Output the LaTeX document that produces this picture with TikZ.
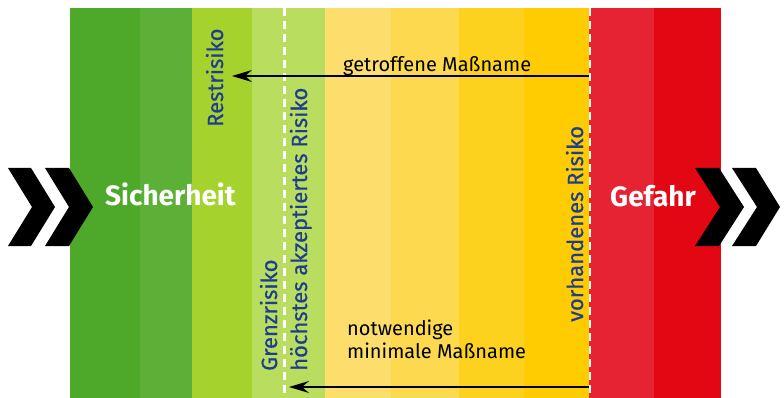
\documentclass[tikz,border=0pt]{standalone}
\usepackage{fontspec}
\setmainfont{Fira Sans}
\newfontfamily\bluefont[FakeBold=0.5]{Fira Sans}
\usetikzlibrary{arrows.meta}
\definecolor{sA}{HTML}{4EA92A}
\definecolor{sB}{HTML}{5CB038}
\definecolor{sC}{HTML}{A6D22D}
\definecolor{sD}{HTML}{B9DD5E}
\definecolor{sE}{HTML}{FDDE6C}
\definecolor{sF}{HTML}{FDD94F}
\definecolor{sG}{HTML}{FDD21F}
\definecolor{sH}{HTML}{FECC00}
\definecolor{sI}{HTML}{E62333}
\definecolor{sJ}{HTML}{E30613}
\definecolor{txtblue}{HTML}{1E3D8F}
\tikzset{
  chev/.style={fill=black},
  bigtxt/.style={text=white,font=\fontsize{28}{30}\selectfont\bfseries,inner sep=0pt,anchor=base west},
  vtxt/.style={text=txtblue,font=\fontsize{22}{24}\selectfont\bluefont,inner sep=0pt,anchor=base west,rotate=90},
  htxt/.style={text=black,font=\fontsize{20}{23}\selectfont,inner sep=0pt,anchor=base west,align=left},
  sep/.style={draw=white,line width=2.5pt,dash pattern=on 8pt off 5pt},
  arr/.style={line width=1.5pt,-{Stealth[length=20pt,width=12pt,inset=7pt]}}
}
\begin{document}
\begin{tikzpicture}[x=1pt,y=-1pt]
\useasboundingbox (0,0) rectangle (784,398);
% stripes
\fill[sA] (70,8) rectangle (141,398);
\fill[sB] (140,8) rectangle (193,398);
\fill[sC] (192,8) rectangle (253,398);
\fill[sD] (252,8) rectangle (326,398);
\fill[sE] (325,8) rectangle (392,398);
\fill[sF] (391,8) rectangle (460,398);
\fill[sG] (459,8) rectangle (525,398);
\fill[sH] (524,8) rectangle (590,398);
\fill[sI] (589,8) rectangle (655,398);
\fill[sJ] (654,8) rectangle (721,398);
% separators
\coordinate (d1t) at (284.5,8);
\coordinate (d1b) at (284.5,398);
\coordinate (d2t) at (590,8);
\coordinate (d2b) at (590,398);
\draw[sep] (d1t) -- (d1b);
\draw[sep,line width=2pt] (d2t) -- (d2b);
% chevrons
\fill[chev] (8,168) -- (31,168) -- (55,207) -- (31,246) -- (8,246) -- (32,207) -- cycle;
\fill[chev] (45,168) -- (69,168) -- (93,207) -- (69,246) -- (45,246) -- (69,207) -- cycle;
\fill[chev] (695,168) -- (719,168) -- (744,207) -- (719,246) -- (695,246) -- (720,207) -- cycle;
\fill[chev] (732,168) -- (756,168) -- (780,207) -- (756,246) -- (732,246) -- (757,207) -- cycle;
% labels
\node[bigtxt] (sich) at (105,206) {Sicherheit};
\node[bigtxt] (gef) at (610,207) {Gefahr};
\node[vtxt] (rest) at (223,127) {Restrisiko};
\node[vtxt] (grenz) at (277,371) {Grenzrisiko};
\node[vtxt] (hoech) at (307,371) {höchstes akzeptiertes Risiko};
\node[vtxt] (vorh) at (583,322) {vorhandenes Risiko};
\node[htxt] (getr) at (343,72) {getroffene Maßname};
\node[htxt] (notw) at (347,358) {notwendige\\minimale Maßname};
% arrows
\coordinate (a1s) at (589,76);
\coordinate (a1e) at (232,76);
\coordinate (a2s) at (589,387);
\coordinate (a2e) at (289,387);
\draw[arr] (a1s) -- (a1e);
\draw[arr] (a2s) -- (a2e);
\end{tikzpicture}
\end{document}
